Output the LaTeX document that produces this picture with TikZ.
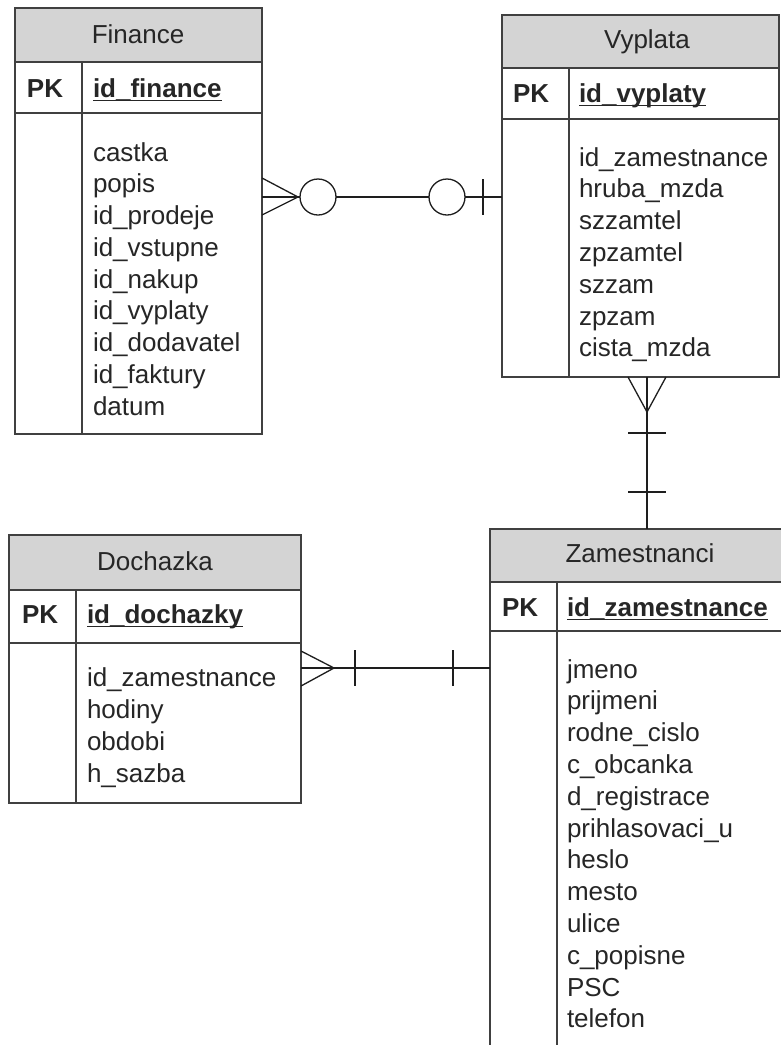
\documentclass[tikz,border=0pt]{standalone}
\usepackage{fontspec}
\setmainfont{Liberation Sans}
\usetikzlibrary{calc}
\definecolor{hdr}{RGB}{212,212,212}
\definecolor{bord}{RGB}{64,64,64}
\definecolor{txt}{RGB}{38,38,38}
\definecolor{conn}{RGB}{30,30,30}
\tikzset{
  tbox/.style={draw=bord, line width=1.6pt, anchor=north west, inner sep=0pt, outer sep=0pt},
  thead/.style={tbox, fill=hdr},
  ttext/.style={anchor=base west, inner sep=0pt, outer sep=0pt, text=txt, font=\fontsize{26}{31}\selectfont},
  tbold/.style={ttext, font=\fontsize{26}{31}\selectfont\bfseries},
  htext/.style={ttext, anchor=base},
  divline/.style={draw=bord, line width=1.6pt},
  uline/.style={draw=txt, line width=1.3pt},
  conline/.style={draw=conn, line width=1.3pt},
  ring/.style={draw=conn, line width=1.3pt, fill=white}
}
\begin{document}
\begin{tikzpicture}[x=1pt,y=-1pt]
\useasboundingbox (0,0) rectangle (781,1045);
\clip (0,0) rectangle (781,1045);
\fill[white] (0,0) rectangle (781,1045);

% ---------------- Finance ----------------
\node[thead, minimum width=247pt, minimum height=54pt] (fin-h) at (15,8) {};
\node[tbox, minimum width=247pt, minimum height=51pt] (fin-p) at (15,62) {};
\node[tbox, minimum width=247pt, minimum height=321pt] (fin-b) at (15,113) {};
\draw[divline] (82,62) -- (82,434);
\node[htext] (fin-t) at (138,43) {Finance};
\node[tbold] (fin-pk) at (27,97) {PK};
\node[tbold] (fin-id) at (93,97) {id\_finance};
\draw[uline] ($(fin-id.base west)+(0,3.5)$) -- ($(fin-id.base east)+(0,3.5)$);
\foreach \t [count=\i from 0] in {castka,popis,id\_prodeje,id\_vstupne,id\_nakup,id\_vyplaty,id\_dodavatel,id\_faktury,datum}
  \node[ttext] (fin-r\i) at (93,161+31.75*\i) {\t};

% ---------------- Vyplata ----------------
\node[thead, minimum width=277pt, minimum height=53pt] (vyp-h) at (502,15) {};
\node[tbox, minimum width=277pt, minimum height=51pt] (vyp-p) at (502,68) {};
\node[tbox, minimum width=277pt, minimum height=258pt] (vyp-b) at (502,119) {};
\draw[divline] (569,68) -- (569,377);
\node[htext] (vyp-t) at (647,48) {Vyplata};
\node[tbold] (vyp-pk) at (513,102) {PK};
\node[tbold] (vyp-id) at (579,102) {id\_vyplaty};
\draw[uline] ($(vyp-id.base west)+(0,3.5)$) -- ($(vyp-id.base east)+(0,3.5)$);
\foreach \t [count=\i from 0] in {id\_zamestnance,hruba\_mzda,szzamtel,zpzamtel,szzam,zpzam,cista\_mzda}
  \node[ttext] (vyp-r\i) at (579,166+31.8*\i) {\t};

% ---------------- Dochazka ----------------
\node[thead, minimum width=292pt, minimum height=55pt] (doc-h) at (9,535) {};
\node[tbox, minimum width=292pt, minimum height=53pt] (doc-p) at (9,590) {};
\node[tbox, minimum width=292pt, minimum height=160pt] (doc-b) at (9,643) {};
\draw[divline] (76,590) -- (76,803);
\node[htext] (doc-t) at (155,570) {Dochazka};
\node[tbold] (doc-pk) at (22,623) {PK};
\node[tbold] (doc-id) at (87,623) {id\_dochazky};
\draw[uline] ($(doc-id.base west)+(0,3.5)$) -- ($(doc-id.base east)+(0,3.5)$);
\foreach \t [count=\i from 0] in {id\_zamestnance,hodiny,obdobi,h\_sazba}
  \node[ttext] (doc-r\i) at (87,686+32*\i) {\t};

% ---------------- Zamestnanci ----------------
\node[thead, minimum width=300pt, minimum height=53pt] (zam-h) at (490,529) {};
\node[tbox, minimum width=300pt, minimum height=49pt] (zam-p) at (490,582) {};
\node[tbox, minimum width=300pt, minimum height=430pt] (zam-b) at (490,631) {};
\draw[divline] (557,582) -- (557,1061);
\node[htext] (zam-t) at (640,562) {Zamestnanci};
\node[tbold] (zam-pk) at (502,616) {PK};
\node[tbold] (zam-id) at (567,616) {id\_zamestnance};
\draw[uline] ($(zam-id.base west)+(0,3.5)$) -- ($(zam-id.base east)+(0,3.5)$);
\foreach \t [count=\i from 0] in {jmeno,prijmeni,rodne\_cislo,c\_obcanka,d\_registrace,prihlasovaci\_u,heslo,mesto,ulice,c\_popisne,PSC,telefon}
  \node[ttext] (zam-r\i) at (567,678+31.8*\i) {\t};

% ---------------- Finance -- Vyplata ----------------
\coordinate (c1a) at ($(fin-b.north east)+(0,84)$);
\coordinate (c1b) at ($(vyp-b.north west)+(0,78)$);
\draw[conline] (c1a) -- (c1b);
\draw[conline] ($(c1a)+(0,-19)$) -- ($(c1a)+(36,0)$) -- ($(c1a)+(0,18)$);
\node[ring, circle, minimum size=36pt, inner sep=0pt] (c1o1) at ($(c1a)+(56,0)$) {};
\node[ring, circle, minimum size=36pt, inner sep=0pt] (c1o2) at ($(c1b)+(-55,0)$) {};
\draw[conline] ($(c1b)+(-19,-18)$) -- ($(c1b)+(-19,18)$);

% ---------------- Vyplata -- Zamestnanci ----------------
\coordinate (c2a) at ($(vyp-b.south west)+(145,0)$);
\coordinate (c2b) at ($(zam-h.north west)+(157,0)$);
\draw[conline] (c2a) -- (c2b);
\draw[conline] ($(c2a)+(-19,0)$) -- ($(c2a)+(0,35)$) -- ($(c2a)+(19,0)$);
\draw[conline] ($(c2a)+(-19,56)$) -- ($(c2a)+(19,56)$);
\draw[conline] ($(c2a)+(-19,115)$) -- ($(c2a)+(19,115)$);

% ---------------- Dochazka -- Zamestnanci ----------------
\coordinate (c3a) at ($(doc-b.north east)+(0,25)$);
\coordinate (c3b) at ($(zam-b.north west)+(0,37)$);
\draw[conline] (c3a) -- (c3b);
\draw[conline] ($(c3a)+(0,-17)$) -- ($(c3a)+(33,0)$) -- ($(c3a)+(0,18)$);
\draw[conline] ($(c3a)+(54,-18)$) -- ($(c3a)+(54,18)$);
\draw[conline] ($(c3b)+(-37,-18)$) -- ($(c3b)+(-37,18)$);
\end{tikzpicture}
\end{document}
